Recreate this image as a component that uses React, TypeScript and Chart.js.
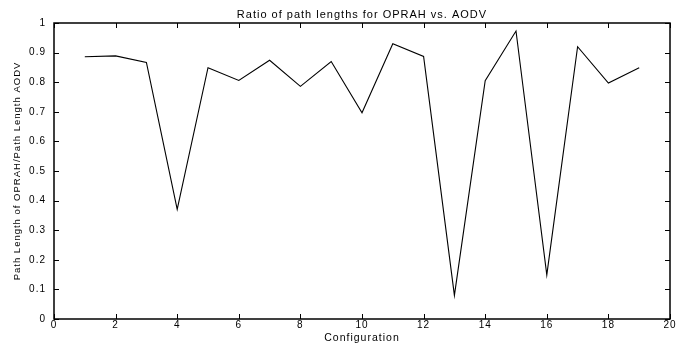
import React, { useEffect, useRef } from "react";
import { Chart, registerables } from "chart.js";

Chart.register(...registerables);

// ---- Data ----
const configurations = [1, 2, 3, 4, 5, 6, 7, 8, 9, 10, 11, 12, 13, 14, 15, 16, 17, 18, 19];
const pathLengthRatios = [
  0.886, 0.889, 0.867, 0.370, 0.849, 0.806, 0.874, 0.786, 0.870, 0.697,
  0.930, 0.887, 0.080, 0.805, 0.973, 0.149, 0.920, 0.797, 0.849,
];
const xRange = [0, 20];
const xStep = 2;
const yRange = [0, 1];
const yStep = 0.1;

const chartTitle = "Ratio of path lengths for OPRAH vs. AODV";
const xAxisLabel = "Configuration";
const yAxisLabel = "Path Length of OPRAH/Path Length AODV";

const FONT = "'Liberation Sans', Arial, Helvetica, sans-serif";

const spacingPlugin = {
  id: "letterSpacing",
  beforeUpdate(chart: any) {
    chart.ctx.letterSpacing = "1px";
  },
  beforeDraw(chart: any) {
    chart.ctx.letterSpacing = "1px";
  },
};

const framePlugin = {
  id: "matlabFrame",
  afterDraw(chart: any) {
    const { ctx, chartArea, scales } = chart;
    const { left, right, top, bottom } = chartArea;
    const x = scales.x;
    const y = scales.y;
    const tl = 5;
    ctx.save();
    ctx.strokeStyle = "#000";
    ctx.lineWidth = 1;
    ctx.beginPath();
    x.ticks.forEach((t: any) => {
      const px = Math.round(x.getPixelForValue(t.value)) + 0.5;
      ctx.moveTo(px, bottom);
      ctx.lineTo(px, bottom - tl);
      ctx.moveTo(px, top);
      ctx.lineTo(px, top + tl);
    });
    y.ticks.forEach((t: any) => {
      const py = Math.round(y.getPixelForValue(t.value)) + 0.5;
      ctx.moveTo(left, py);
      ctx.lineTo(left + tl, py);
      ctx.moveTo(right, py);
      ctx.lineTo(right - tl, py);
    });
    ctx.stroke();
    ctx.lineWidth = 1.5;
    ctx.strokeRect(left, top, right - left, bottom - top);
    ctx.restore();
  },
};

export default function App() {
  const canvasRef = useRef<HTMLCanvasElement | null>(null);

  useEffect(() => {
    if (!canvasRef.current) return;
    const chart = new Chart(canvasRef.current, {
      type: "line",
      data: {
        datasets: [
          {
            data: configurations.map((c, i) => ({ x: c, y: pathLengthRatios[i] })),
            borderColor: "#000",
            borderWidth: 1.1,
            pointRadius: 0,
            tension: 0,
            fill: false,
          },
        ],
      },
      options: {
        animation: false,
        responsive: false,
        maintainAspectRatio: false,
        layout: { padding: { left: 0, right: 21, top: 0, bottom: 0 } },
        plugins: {
          legend: { display: false },
          tooltip: { enabled: false },
          title: {
            display: true,
            text: chartTitle,
            fullSize: false,
            color: "#000",
            font: { family: FONT, size: 11, weight: "normal", lineHeight: 1 },
            padding: { top: 9, bottom: 3 },
          },
        },
        scales: {
          x: {
            type: "linear",
            min: xRange[0],
            max: xRange[1],
            afterFit(scale: any) {
              scale.height = 26;
            },
            ticks: {
              stepSize: xStep,
              color: "#000",
              padding: 0,
              maxRotation: 0,
              font: { family: FONT, size: 10 },
            },
            grid: { display: false, drawTicks: false },
            border: { display: false },
            title: {
              display: true,
              text: xAxisLabel,
              color: "#000",
              font: { family: FONT, size: 10.5 },
              padding: { top: 0, bottom: 1 },
            },
          },
          y: {
            type: "linear",
            min: yRange[0],
            max: yRange[1],
            afterFit(scale: any) {
              scale.width = 54;
            },
            ticks: {
              stepSize: yStep,
              color: "#000",
              padding: 8,
              font: { family: FONT, size: 10 },
              callback: (v: any) => String(Math.round(Number(v) * 10) / 10),
            },
            grid: { display: false, drawTicks: false },
            border: { display: false },
            title: {
              display: true,
              text: yAxisLabel,
              color: "#000",
              font: { family: FONT, size: 9.5 },
              padding: { top: 12, bottom: 0 },
            },
          },
        },
      },
      plugins: [spacingPlugin, framePlugin],
    } as any);
    return () => chart.destroy();
  }, []);

  return (
    <div style={{ position: "fixed", left: 0, top: 0, width: 691, height: 345, background: "#fff" }}>
      <canvas ref={canvasRef} width={691} height={345} style={{ width: 691, height: 345, display: "block" }} />
    </div>
  );
}
